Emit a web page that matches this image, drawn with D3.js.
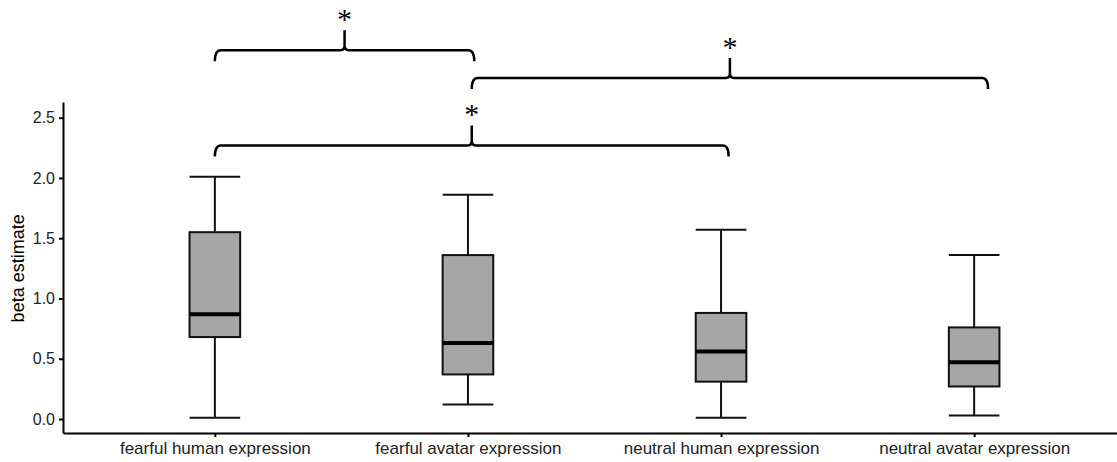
<!DOCTYPE html>
<meta charset="utf-8">
<script src="https://d3js.org/d3.v7.min.js"></script>
<style>
body { margin: 0; background: #fff; font-family: "Liberation Sans", Arial, sans-serif; }
.axis path, .axis line { stroke: #000; stroke-width: 2px; }
.axis text { fill: #222; }
.box { fill: #a6a6a6; stroke: #111; stroke-width: 2px; }
.whisker { stroke: #111; stroke-width: 2px; }
.median { stroke: #000; stroke-width: 4px; }
.bracket { fill: none; stroke: #000; stroke-width: 2.5px; }
.star { font-family: "Liberation Serif", serif; font-size: 30px; }
</style>
<body>
<script>
// values
var categories = ["fearful human expression", "fearful avatar expression",
                  "neutral human expression", "neutral avatar expression"];
var whiskerLow  = [0.01, 0.12, 0.01, 0.03];
var q1          = [0.68, 0.37, 0.31, 0.27];
var medians     = [0.87, 0.63, 0.56, 0.47];
var q3          = [1.55, 1.36, 0.88, 0.76];
var whiskerHigh = [2.01, 1.86, 1.57, 1.36];
var yTicks = [0, 0.5, 1, 1.5, 2, 2.5];

// significance brackets: start index, end index, height (beta units)
var bracketFrom   = [0, 1.015, 0];
var bracketTo     = [1.025, 3.055, 2.03];
var bracketHeight = [3.06, 2.83, 2.27];

var w = 1117, h = 462;
var svg = d3.select("body").append("svg").attr("width", w).attr("height", h);

var x = d3.scalePoint().domain(categories).range([63, 1126]).padding(0.6);
var xi = d3.scaleLinear().domain([0, 3]).range([x(categories[0]), x(categories[3])]);
var y = d3.scaleLinear().domain([-0.116, 2.63]).range([433, 102]);
var boxW = x.step() * 0.2;

svg.append("g").attr("class", "axis")
  .attr("transform", "translate(63,0)")
  .call(d3.axisLeft(y).tickValues(yTicks).tickFormat(d3.format(".1f")).tickSize(4).tickSizeOuter(0).tickPadding(4))
  .selectAll("text").style("font-size", "16px").style("font-family", "Liberation Sans, Arial, sans-serif");

svg.append("g").attr("class", "axis")
  .attr("transform", "translate(0,433)")
  .call(d3.axisBottom(x).tickSize(4).tickSizeOuter(0).tickPadding(5))
  .selectAll("text").style("font-size", "17px").style("font-family", "Liberation Sans, Arial, sans-serif");

svg.append("text")
  .attr("transform", "translate(24," + y(1.25) + ") rotate(-90)")
  .attr("text-anchor", "middle")
  .style("font-size", "18px")
  .text("beta estimate");

var g = svg.append("g").selectAll("g").data(categories).enter().append("g");

g.append("line").attr("class", "whisker")
  .attr("x1", function(d) { return x(d); }).attr("x2", function(d) { return x(d); })
  .attr("y1", function(d, i) { return y(whiskerLow[i]); })
  .attr("y2", function(d, i) { return y(whiskerHigh[i]); });
g.append("line").attr("class", "whisker")
  .attr("x1", function(d) { return x(d) - boxW / 2; }).attr("x2", function(d) { return x(d) + boxW / 2; })
  .attr("y1", function(d, i) { return y(whiskerLow[i]); })
  .attr("y2", function(d, i) { return y(whiskerLow[i]); });
g.append("line").attr("class", "whisker")
  .attr("x1", function(d) { return x(d) - boxW / 2; }).attr("x2", function(d) { return x(d) + boxW / 2; })
  .attr("y1", function(d, i) { return y(whiskerHigh[i]); })
  .attr("y2", function(d, i) { return y(whiskerHigh[i]); });
g.append("rect").attr("class", "box")
  .attr("x", function(d) { return x(d) - boxW / 2; })
  .attr("width", boxW)
  .attr("y", function(d, i) { return y(q3[i]); })
  .attr("height", function(d, i) { return y(q1[i]) - y(q3[i]); });
g.append("line").attr("class", "median")
  .attr("x1", function(d) { return x(d) - boxW / 2; }).attr("x2", function(d) { return x(d) + boxW / 2; })
  .attr("y1", function(d, i) { return y(medians[i]); })
  .attr("y2", function(d, i) { return y(medians[i]); });

// curly-style brackets with a star above the middle
bracketFrom.forEach(function(f, i) {
  var x0 = xi(f), x1 = xi(bracketTo[i]), xm = (x0 + x1) / 2, yy = y(bracketHeight[i]);
  var p = "M" + x0 + "," + (yy + 11) + " Q" + x0 + "," + yy + " " + (x0 + 6) + "," + yy +
          " L" + (xm - 4) + "," + yy + " Q" + xm + "," + yy + " " + xm + "," + (yy - 5) +
          " L" + xm + "," + (yy - 20) +
          " M" + xm + "," + (yy - 5) + " Q" + xm + "," + yy + " " + (xm + 4) + "," + yy +
          " L" + (x1 - 6) + "," + yy + " Q" + x1 + "," + yy + " " + x1 + "," + (yy + 11);
  svg.append("path").attr("class", "bracket").attr("d", p);
  svg.append("text").attr("class", "star")
    .attr("x", xm).attr("y", yy - 21)
    .attr("text-anchor", "middle")
    .text("*");
});
</script>
</body>
</html>
